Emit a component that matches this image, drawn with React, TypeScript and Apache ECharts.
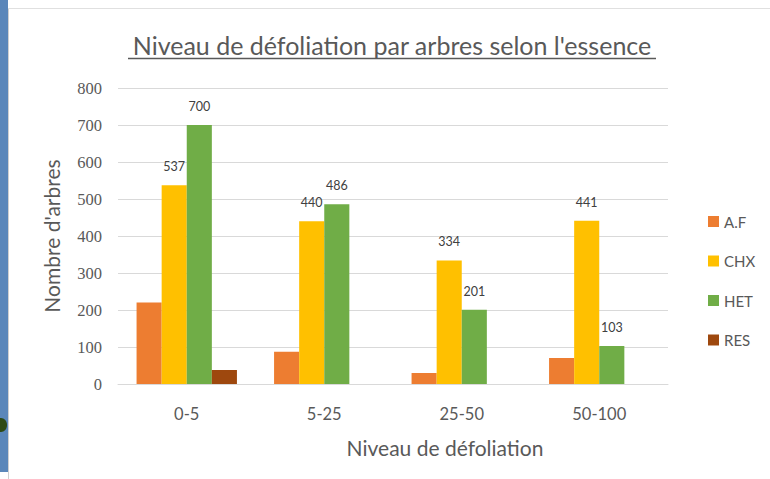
import React, { useEffect, useRef } from "react";
import * as echarts from "echarts";

const categories = ["0-5", "5-25", "25-50", "50-100"];
const seriesNames = ["A.F", "CHX", "HET", "RES"];
const valuesAF = [220, 87, 30, 70];
const valuesCHX = [537, 440, 334, 441];
const valuesHET = [700, 486, 201, 103];
const valuesRES = [38, 0, 0, 0];
const colors = ["#ED7D31", "#FFC000", "#70AD47", "#9E480E"];
const showLabels = [false, true, true, false];
const yTicks = [0, 100, 200, 300, 400, 500, 600, 700, 800];

const titleText = "Niveau de défoliation par arbres selon l'essence";
const xName = "Niveau de défoliation";
const yName = "Nombre d'arbres";

const SANS = "Lato, 'Open Sans', sans-serif";
const SERIF = "'Liberation Serif', 'DejaVu Serif', serif";

export default function App() {
  const ref = useRef<HTMLDivElement>(null);
  useEffect(() => {
    if (!ref.current) return;
    const chart = echarts.init(ref.current, null, { renderer: "svg" });
    const data = [valuesAF, valuesCHX, valuesHET, valuesRES];
    chart.setOption({
      animation: false,
      backgroundColor: "#ffffff",
      grid: { left: 118, right: 102, top: 88, bottom: 95, containLabel: false },
      legend: {
        orient: "vertical",
        left: 703,
        top: 209,
        itemWidth: 11,
        itemHeight: 11,
        itemGap: 24.5,
        icon: "rect",
        data: seriesNames,
        textStyle: { fontFamily: SANS, fontSize: 15, color: "#595959", lineHeight: 15 },
      },
      xAxis: {
        type: "category",
        data: categories,
        axisLine: { lineStyle: { color: "#d9d9d9", width: 1 } },
        axisTick: { show: false },
        axisLabel: { fontFamily: SANS, fontSize: 16.5, color: "#595959", margin: 21 },
      },
      yAxis: {
        type: "value",
        min: yTicks[0],
        max: yTicks[yTicks.length - 1],
        interval: 100,
        axisLine: { show: false },
        axisTick: { show: false },
        splitLine: { lineStyle: { color: "#d9d9d9", width: 1 } },
        axisLabel: { fontFamily: SERIF, fontSize: 16.5, color: "#595959", margin: 16 },
      },
      series: seriesNames.map((name, i) => ({
        name,
        type: "bar",
        data: data[i],
        barGap: "0%",
        barCategoryGap: "27%",
        itemStyle: { color: colors[i] },
        label: {
          show: showLabels[i],
          position: "top",
          distance: 12,
          fontFamily: SANS,
          fontSize: 12.5,
          color: "#404040",
        },
      })),
      graphic: [
        { type: "rect", shape: { x: 0, y: 0, width: 8, height: 472 }, style: { fill: "#5B87BA" } },
        { type: "ellipse", shape: { cx: 1, cy: 425, rx: 6, ry: 7 }, style: { fill: "#2E4A14" } },
        { type: "line", shape: { x1: 8.5, y1: 8, x2: 8.5, y2: 479 }, style: { stroke: "#d0d0d0", lineWidth: 1 } },
        { type: "line", shape: { x1: 8, y1: 8.5, x2: 770, y2: 8.5 }, style: { stroke: "#e0e0e0", lineWidth: 1 } },
        {
          type: "text",
          x: 392,
          y: 45,
          style: { text: titleText, fontFamily: SANS, fontSize: 25, fill: "#595959", align: "center", verticalAlign: "middle" },
        },
        { type: "line", shape: { x1: 128, y1: 58.5, x2: 656, y2: 58.5 }, style: { stroke: "#595959", lineWidth: 1.5 } },
        {
          type: "text",
          x: 445,
          y: 447,
          style: { text: xName, fontFamily: SANS, fontSize: 21, fill: "#595959", align: "center", verticalAlign: "middle" },
        },
        {
          type: "text",
          x: 51,
          y: 236,
          rotation: Math.PI / 2,
          style: { text: yName, fontFamily: SANS, fontSize: 21, fill: "#595959", align: "center", verticalAlign: "middle" },
        },
      ],
    });
    return () => chart.dispose();
  }, []);
  return (
    <div
      ref={ref}
      style={{ position: "absolute", left: 0, top: 0, width: 770, height: 479 }}
    />
  );
}
